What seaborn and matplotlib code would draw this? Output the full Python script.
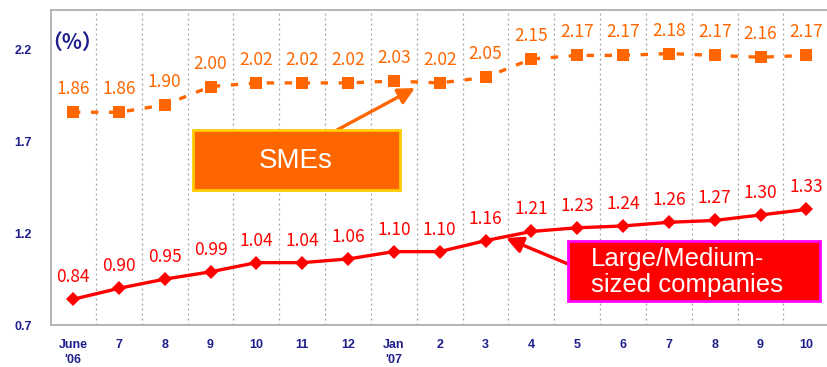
import matplotlib
matplotlib.use("Agg")
import matplotlib.pyplot as plt
from matplotlib.patches import Rectangle
import seaborn as sns
import pandas as pd

# Monthly rates (%), June 2006 to October 2007
months = ["June\n'06", "7", "8", "9", "10", "11", "12", "Jan\n'07",
          "2", "3", "4", "5", "6", "7", "8", "9", "10"]
sme_rate = [1.86, 1.86, 1.90, 2.00, 2.02, 2.02, 2.02, 2.03,
            2.02, 2.05, 2.15, 2.17, 2.17, 2.18, 2.17, 2.16, 2.17]
large_rate = [0.84, 0.90, 0.95, 0.99, 1.04, 1.04, 1.06, 1.10,
              1.10, 1.16, 1.21, 1.23, 1.24, 1.26, 1.27, 1.30, 1.33]
y_ticks = [0.7, 1.2, 1.7, 2.2]

ORANGE = "#FF6600"
RED = "#FF0000"
NAVY = "#1E1E8C"
GRID = "#A0A0A0"

sns.set_style("white")
plt.rcParams["font.family"] = ["Liberation Sans", "DejaVu Sans"]

W, H = 827, 367
fig = plt.figure(figsize=(W / 100, H / 100), dpi=100)
ax = fig.add_axes([51 / W, 1 - 325 / H, (W - 51) / W, 315 / H])

df = pd.DataFrame({"pos": list(range(len(months))),
                   "sme": sme_rate, "large": large_rate})

sns.lineplot(data=df, x="pos", y="sme", ax=ax, color=ORANGE, lw=2.4,
             marker="s", markersize=8, markeredgewidth=0,
             linestyle=(0, (2.2, 3.2)))
sns.lineplot(data=df, x="pos", y="large", ax=ax, color=RED, lw=2.4,
             marker="D", markersize=7.5, markeredgewidth=0)

label_font = ["Noto Sans CJK JP", "DejaVu Sans"]
for i, v in enumerate(sme_rate):
    ax.annotate(f"{v:.2f}", (i, v), xytext=(0, 23), textcoords="offset pixels",
                ha="center", va="center", color=ORANGE, fontsize=12.5,
                family=label_font)
for i, v in enumerate(large_rate):
    ax.annotate(f"{v:.2f}", (i, v), xytext=(0, 22), textcoords="offset pixels",
                ha="center", va="center", color=RED, fontsize=12.5,
                family=label_font)

ax.set_xlim(-0.48, 16.45)
ax.set_ylim(0.7, 2.4175)
ax.set_xlabel("")
ax.set_ylabel("")

ax.set_xticks(range(len(months)))
ax.set_xticklabels(months, color=NAVY, fontsize=9, fontweight="bold",
                   linespacing=1.35)
ax.set_xticks([i + 0.5 for i in range(len(months) - 1)], minor=True)
ax.tick_params(axis="x", which="major", length=0, pad=10)
ax.tick_params(axis="x", which="minor", direction="in", length=4,
               color=GRID, width=1)
ax.set_yticks(y_ticks)
ax.set_yticklabels([f"{t:.1f}" for t in y_ticks], color=NAVY, fontsize=9,
                   fontweight="bold")
ax.tick_params(axis="y", direction="in", length=4, color=GRID, width=1, pad=14)

ax.grid(False)
for xm in [i + 0.5 for i in range(len(months) - 1)]:
    ax.axvline(xm, color=GRID, lw=0.9, linestyle=(0, (1.5, 2.5)), zorder=0)

for side in ("left", "top", "bottom"):
    ax.spines[side].set_color("#AFAFAF")
    ax.spines[side].set_linewidth(1.3)
ax.spines["right"].set_visible(False)

fig.text(41 / W, 1 - 42 / H, "（%）", color=NAVY, fontsize=15,
         fontweight="bold", va="center", ha="left",
         family=["Noto Sans CJK JP", "DejaVu Sans"])

# Callout boxes, placed in figure pixels (origin bottom-left)
def box(x0, y0, x1, y1, face, edge):
    fig.patches.append(Rectangle((x0 / W, 1 - y1 / H), (x1 - x0) / W,
                                 (y1 - y0) / H, transform=fig.transFigure,
                                 facecolor=face, edgecolor=edge, lw=2,
                                 zorder=5))

box(193, 130, 400, 190, ORANGE, "#FFCC00")
fig.text(296 / W, 1 - 161 / H, "SMEs", color="white", fontsize=20,
         ha="center", va="center", zorder=6)

box(568, 241, 820, 301, RED, "#FF00FF")
fig.text(591 / W, 1 - 272 / H, "Large/Medium-\nsized companies", color="white",
         fontsize=18.5, ha="left", va="center", linespacing=1.1, zorder=6)

ax.annotate("", xy=(415 / W, 1 - 88 / H), xytext=(337 / W, 1 - 130 / H),
            xycoords="figure fraction", textcoords="figure fraction",
            arrowprops=dict(arrowstyle="-|>,head_length=1.0,head_width=0.5",
                            color=ORANGE, lw=2.4, shrinkA=0, shrinkB=0))
ax.annotate("", xy=(506 / W, 1 - 238 / H), xytext=(568 / W, 1 - 264 / H),
            xycoords="figure fraction", textcoords="figure fraction",
            arrowprops=dict(arrowstyle="-|>,head_length=1.0,head_width=0.5",
                            color=RED, lw=2.4, shrinkA=0, shrinkB=0))

fig.savefig("out.png", dpi=100)
